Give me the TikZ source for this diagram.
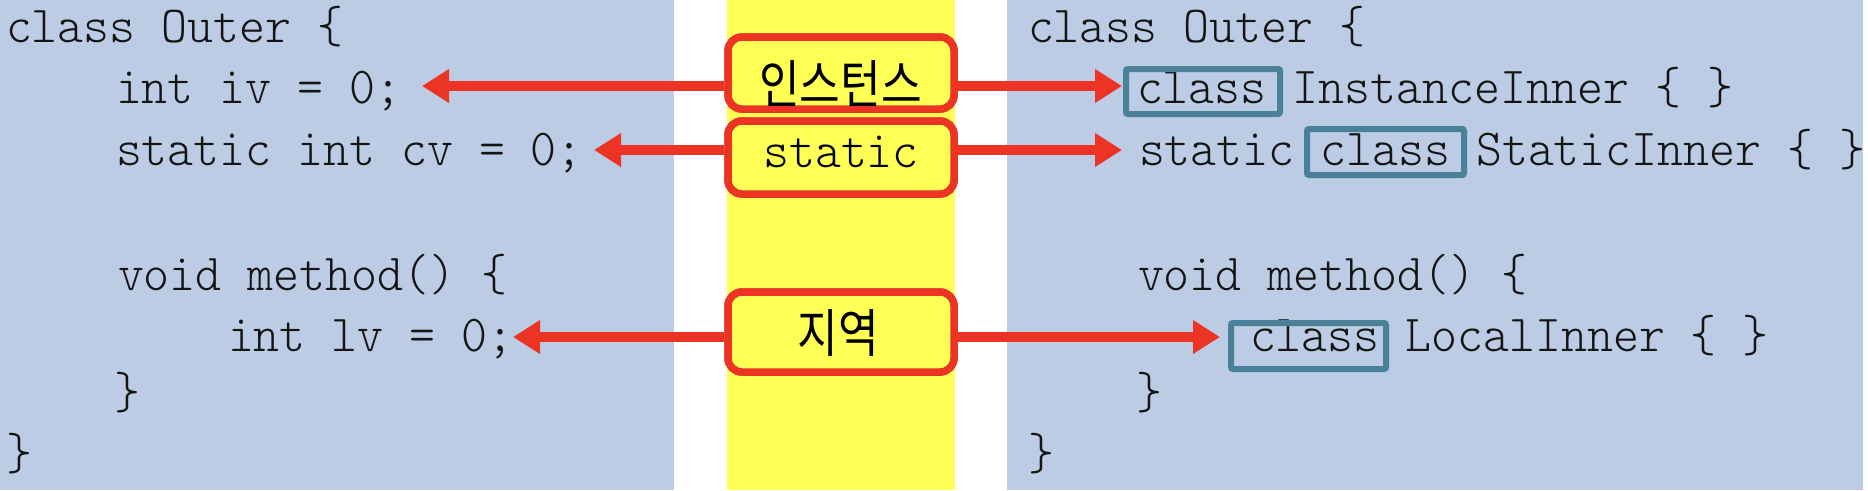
\documentclass[tikz,border=0pt]{standalone}
\usepackage{fontspec}
\newfontfamily\kr{Noto Sans CJK KR}[FakeStretch=0.85]
\newfontfamily\codefont{lmmonolt10-regular.otf}[FakeStretch=0.95]
\usetikzlibrary{arrows.meta}
\definecolor{panelblue}{RGB}{188,204,228}
\definecolor{stripyellow}{RGB}{255,255,85}
\definecolor{redc}{RGB}{236,52,36}
\definecolor{tealc}{RGB}{74,129,153}
\definecolor{codeink}{RGB}{20,20,20}
\begin{document}
\begin{tikzpicture}[x=1pt,y=-1pt,
  code/.style={anchor=base west, inner sep=0pt, outer sep=0pt, text=codeink,
    font=\codefont\fontsize{52}{60}\selectfont},
  redbox/.style={draw=redc, fill=stripyellow, line width=7.5pt, rounded corners=14pt,
    minimum width=226pt, inner sep=0pt},
  lbl/.style={inner sep=0pt, text=black},
  kwbox/.style={draw=tealc, line width=6pt, rounded corners=2pt, inner sep=0pt},
  arr/.style={draw=redc, line width=10pt, -{Triangle[length=27pt,width=32pt]}}]
\useasboundingbox (0,0) rectangle (1868,490);
\fill[white] (0,0) rectangle (1868,490);
% panels
\fill[panelblue] (0,0) rectangle (674,490);
\fill[stripyellow] (727,0) rectangle (955,490);
\fill[panelblue] (1007,0) rectangle (1863,490);
% left code
\node[code] (L0) at (6,42) {class Outer \{};
\node[code] (L1) at (116,103) {int iv = 0;};
\node[code] (L2) at (116,165) {static int cv = 0;};
\node[code] (L4) at (118,290) {void method() \{};
\node[code] (L5) at (228,351) {int lv = 0;};
\node[code] (L6) at (114,408) {\}};
\node[code] (L7) at (6,469) {\}};
% right code
\node[code] (R0) at (1028,42) {class Outer \{};
\node[code] (R1) at (1137,103) {class InstanceInner \{ \}};
\node[code] (R2) at (1139,165) {static class StaticInner \{ \}};
\node[code] (R4) at (1138,290) {void method() \{};
\node[code] (R5) at (1250,351) {class LocalInner \{ \}};
\node[code] (R6) at (1136,408) {\}};
\node[code] (R7) at (1028,469) {\}};
% keyword boxes
\node[kwbox, minimum width=154pt, minimum height=45pt] (k1) at (1203,91.5) {};
\node[kwbox, minimum width=157pt, minimum height=46pt] (k2) at (1385.5,152) {};
\node[kwbox, minimum width=155pt, minimum height=46pt] (k3) at (1308.5,346) {};
% arrow tips
\coordinate (tipIV) at (422,86);
\coordinate (tipCV) at (594,150);
\coordinate (tipLV) at (513,337);
\coordinate (tipII) at (1122,86);
\coordinate (tipSI) at (1122,150);
\coordinate (tipLI) at (1220,337);
% red boxes
\node[redbox, minimum height=72pt] (b1) at (841,73) {};
\node[redbox, minimum height=73pt] (b2) at (841,157.5) {};
\node[redbox, minimum height=80pt] (b3) at (841,332) {};
% arrows
\draw[arr] (b1.west |- tipIV) -- (tipIV);
\draw[arr] (b1.east |- tipII) -- (tipII);
\draw[arr] (b2.west |- tipCV) -- (tipCV);
\draw[arr] (b2.east |- tipSI) -- (tipSI);
\draw[arr] (b3.west |- tipLV) -- (tipLV);
\draw[arr] (b3.east |- tipLI) -- (tipLI);
% redraw boxes on top
\node[redbox, minimum height=72pt] at (b1) {};
\node[redbox, minimum height=73pt] at (b2) {};
\node[redbox, minimum height=80pt] at (b3) {};
% labels
\node[lbl, font=\kr\fontsize{52}{60}\selectfont] (t1) at (840.5,84) {인스턴스};
\node[lbl, anchor=base, font=\codefont\fontsize{52}{60}\selectfont] (t2) at (841,167) {static};
\node[lbl, font=\kr\fontsize{52}{60}\selectfont] (t3) at (838,333.5) {지역};
\end{tikzpicture}
\end{document}
